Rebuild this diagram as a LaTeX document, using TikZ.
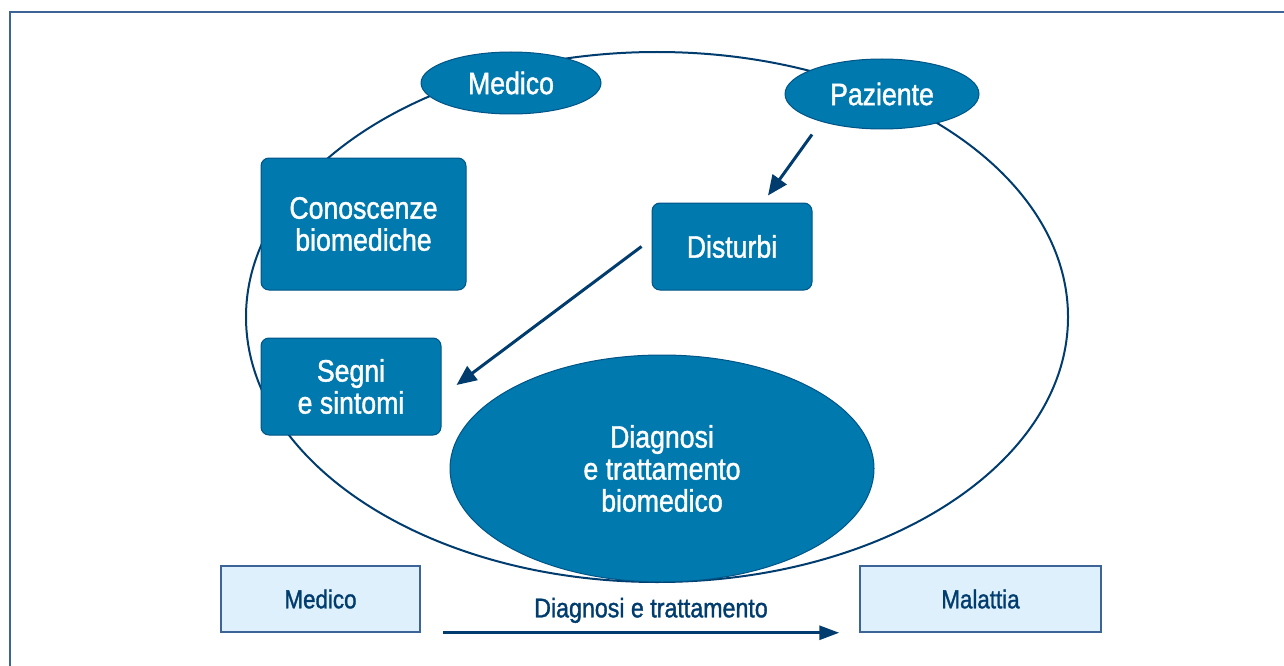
\documentclass[tikz,border=0pt]{standalone}
\usepackage{fontspec}
\setmainfont{Liberation Sans}[FakeStretch=0.86,FakeBold=1.3]
\usetikzlibrary{shapes.geometric,arrows.meta,calc}
\definecolor{mainblue}{RGB}{0,121,174}
\definecolor{edgeblue}{RGB}{0,84,134}
\definecolor{darkblue}{RGB}{0,60,110}
\definecolor{lightfill}{RGB}{222,240,251}
\definecolor{framecol}{RGB}{60,100,150}
\tikzset{
  bigtext/.style={font=\fontsize{31}{32}\selectfont, text=white, align=center},
  oval/.style={ellipse, fill=mainblue, draw=edgeblue, line width=1pt, inner sep=0pt, bigtext},
  boxnode/.style={rectangle, rounded corners=8pt, fill=mainblue, draw=edgeblue, line width=1pt, inner sep=0pt, bigtext},
  lightbox/.style={rectangle, fill=lightfill, draw=framecol, line width=1.5pt, inner sep=0pt, font=\fontsize{26}{28}\selectfont, text=darkblue},
  arr/.style={draw=darkblue, line width=3pt, -{Triangle[length=20pt,width=17pt]}},
  barr/.style={draw=darkblue, line width=3pt, -{Triangle[length=20pt,width=14pt]}}
}
\begin{document}
\begin{tikzpicture}[x=1pt,y=-1pt]
\useasboundingbox (0,0) rectangle (1284,666);
% frame
\draw[framecol, line width=2pt] (10,666) -- (10,12) -- (1284,12);
% outer cycle
\node[ellipse, draw=darkblue, line width=2pt, minimum width=822pt, minimum height=530pt, inner sep=0pt] (cycle) at (657,317) {};
% nodes
\node[oval, minimum width=180pt, minimum height=62pt] (med) at (511,83) {Medico};
\node[oval, minimum width=194pt, minimum height=70pt] (paz) at (882,94) {Paziente};
\node[boxnode, minimum width=205pt, minimum height=132pt] (con) at (363.5,224) {Conoscenze\\biomediche};
\node[boxnode, minimum width=160pt, minimum height=87pt] (dist) at (732,246.5) {Disturbi};
\node[boxnode, minimum width=180pt, minimum height=97pt] (seg) at (351,386.5) {Segni\\e sintomi};
\node[oval, minimum width=424pt, minimum height=227pt] (diag) at (662,468.5) {Diagnosi\\e trattamento\\biomedico};
\node[lightbox, minimum width=199pt, minimum height=66pt] (bmed) at (320.5,599) {Medico};
\node[lightbox, minimum width=241pt, minimum height=66pt] (mal) at (980.5,599) {Malattia};
% arrows
\draw[arr] ($(paz.south)+(-70,5)$) -- ($(dist.north)+(36,-7)$);
\draw[arr] ($(dist.west)+(-10,0)$) -- ($(seg.east)+(15,-1.5)$);
\draw[barr] ($(bmed.south east)+(22,0)$) -- node[above=5pt, xshift=10pt, font=\fontsize{27}{29}\selectfont, text=darkblue] (lbl) {Diagnosi e trattamento} ($(mal.south west)+(-20,0)$);
\end{tikzpicture}
\end{document}
